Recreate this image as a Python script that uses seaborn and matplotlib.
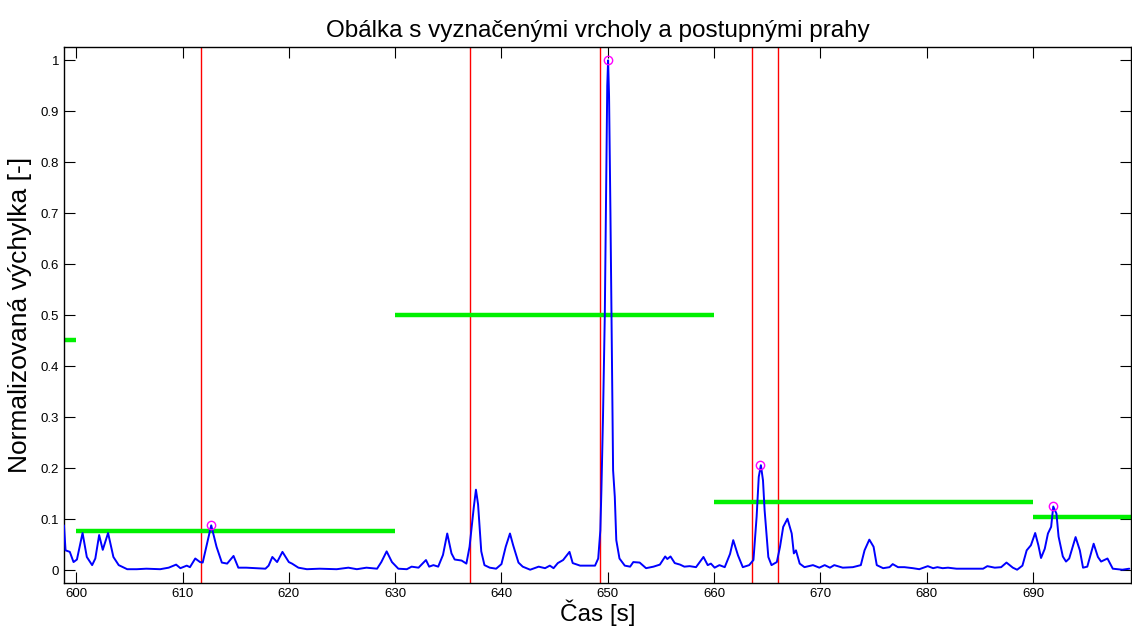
import numpy as np
import pandas as pd
import matplotlib
matplotlib.use("Agg")
import matplotlib.pyplot as plt
import seaborn as sns

# Envelope (time in s, normalized amplitude)
cas = [598.85, 599.0, 599.4, 599.75, 600.07, 600.6, 601.0, 601.5, 601.8, 602.16,
       602.5, 603.0, 603.5, 604.0, 604.8, 605.7, 606.6, 607.9, 608.7, 609.4,
       609.8, 610.4, 610.7, 611.2, 611.65, 611.9, 612.7, 613.2, 613.7, 614.2,
       614.8, 615.25, 616.0, 617.0, 617.8, 618.1, 618.45, 618.9, 619.4, 620.0,
       620.3, 620.9, 621.7, 622.9, 624.5, 625.6, 626.4, 627.3, 628.3, 628.7,
       629.2, 629.7, 630.3, 631.1, 631.55, 632.2, 632.9, 633.2, 633.6, 634.05,
       634.5, 634.9, 635.3, 635.6, 636.25, 636.7, 637.0, 637.4, 637.6, 637.8,
       638.1, 638.4, 638.9, 639.5, 640.0, 640.4, 640.8, 641.1, 641.6, 642.0,
       642.7, 643.5, 644.1, 644.55, 644.9, 645.3, 645.8, 646.4, 646.7, 647.4,
       648.0, 648.8, 649.1, 649.3, 649.4, 649.55, 649.72, 649.85, 649.95, 650.03,
       650.12, 650.25, 650.35, 650.45, 650.5, 650.66, 650.8, 651.1, 651.6, 652.1,
       652.4, 653.0, 653.6, 654.3, 654.9, 655.4, 655.6, 655.9, 656.3, 656.8,
       657.2, 657.7, 658.3, 659.0, 659.4, 659.7, 660.05, 660.5, 661.0, 661.5,
       661.8, 662.25, 662.7, 663.3, 663.7, 664.0, 664.2, 664.4, 664.6, 664.75,
       665.1, 665.4, 665.9, 666.2, 666.5, 666.9, 667.3, 667.5, 667.7, 668.05,
       668.5, 669.3, 669.9, 670.4, 670.9, 671.3, 672.1, 673.05, 673.8, 674.15,
       674.6, 675.0, 675.3, 675.9, 676.5, 676.8, 677.3, 677.9, 678.7, 679.3,
       680.1, 680.6, 681.0, 681.5, 682.0, 682.8, 684.0, 685.3, 685.7, 686.4,
       687.0, 687.5, 688.1, 688.5, 689.0, 689.4, 689.8, 690.2, 690.5, 690.75,
       691.1, 691.4, 691.7, 691.9, 692.2, 692.4, 692.8, 693.1, 693.4, 694.0,
       694.4, 694.7, 695.1, 695.7, 696.1, 696.4, 697.0, 697.5, 698.4, 699.05]
obalka = [0.088, 0.039, 0.036, 0.016, 0.021, 0.073, 0.026, 0.010, 0.023, 0.069,
          0.040, 0.073, 0.026, 0.010, 0.002, 0.002, 0.003, 0.002, 0.005, 0.011,
          0.004, 0.009, 0.006, 0.023, 0.016, 0.015, 0.088, 0.046, 0.015, 0.013,
          0.028, 0.005, 0.005, 0.004, 0.003, 0.009, 0.026, 0.016, 0.036, 0.016,
          0.013, 0.005, 0.002, 0.003, 0.002, 0.005, 0.002, 0.005, 0.003, 0.016,
          0.037, 0.016, 0.003, 0.002, 0.007, 0.005, 0.020, 0.007, 0.010, 0.007,
          0.030, 0.072, 0.033, 0.021, 0.019, 0.013, 0.046, 0.124, 0.158, 0.129,
          0.037, 0.010, 0.005, 0.003, 0.012, 0.046, 0.072, 0.049, 0.015, 0.007,
          0.001, 0.007, 0.004, 0.009, 0.004, 0.014, 0.020, 0.036, 0.014, 0.009,
          0.009, 0.009, 0.023, 0.078, 0.157, 0.30, 0.50, 0.75, 0.95, 1.0,
          0.93, 0.70, 0.50, 0.28, 0.196, 0.144, 0.059, 0.023, 0.009, 0.007,
          0.016, 0.015, 0.004, 0.007, 0.011, 0.027, 0.022, 0.027, 0.014, 0.011,
          0.007, 0.008, 0.006, 0.026, 0.010, 0.013, 0.005, 0.010, 0.006, 0.032,
          0.059, 0.029, 0.006, 0.010, 0.020, 0.105, 0.183, 0.206, 0.176, 0.118,
          0.026, 0.010, 0.016, 0.046, 0.085, 0.101, 0.072, 0.033, 0.039, 0.013,
          0.006, 0.010, 0.005, 0.010, 0.005, 0.010, 0.005, 0.006, 0.010, 0.039,
          0.060, 0.046, 0.010, 0.004, 0.006, 0.012, 0.006, 0.006, 0.004, 0.002,
          0.008, 0.004, 0.006, 0.004, 0.005, 0.003, 0.003, 0.003, 0.008, 0.005,
          0.006, 0.015, 0.005, 0.001, 0.009, 0.039, 0.049, 0.073, 0.049, 0.024,
          0.042, 0.072, 0.085, 0.125, 0.111, 0.066, 0.027, 0.017, 0.023, 0.065,
          0.039, 0.005, 0.007, 0.052, 0.026, 0.017, 0.023, 0.003, 0.001, 0.003]

# Detected peaks
vrchol_cas = [612.7, 650.03, 664.35, 691.9]
vrchol_hodnota = [0.088, 1.0, 0.207, 0.125]

# Boundaries (red lines)
hranice = [611.75, 637.0, 649.3, 663.6, 666.0]

# Step thresholds per window
prah_od = [590, 600, 630, 660, 690]
prah_do = [600, 630, 660, 690, 700]
prah = [0.451, 0.077, 0.5, 0.133, 0.104]

df = pd.DataFrame({"cas": cas, "obalka": obalka})
df_vrchol = pd.DataFrame({"cas": vrchol_cas, "hodnota": vrchol_hodnota})

sns.set_style("ticks")
plt.rcParams["font.family"] = ["Liberation Sans", "DejaVu Sans"]
plt.rcParams["text.color"] = "black"
plt.rcParams["axes.labelcolor"] = "black"

fig = plt.figure(figsize=(11.32, 6.28), dpi=100)
ax = fig.add_axes([0.0565, 0.0717, 0.9425, 0.8533])

for h in hranice:
    ax.axvline(h, color="red", lw=1, zorder=1)

ax.hlines(prah, prah_od, prah_do, colors="#00f000", lw=3.2, zorder=2)

sns.lineplot(data=df, x="cas", y="obalka", color="blue", lw=1.4, ax=ax, zorder=3)

ax.plot(df_vrchol["cas"], df_vrchol["hodnota"], ls="none", marker="o", ms=6,
        mfc="none", mec="magenta", mew=1, zorder=4)

ax.set_xlim(598.85, 699.2)
ax.set_ylim(-0.025, 1.026)
ax.set_xticks(np.arange(600, 700, 10))
ax.set_yticks(np.arange(0, 1.01, 0.1))
ax.set_yticklabels(["0"] + ["%.1f" % v for v in np.arange(0.1, 0.95, 0.1)] + ["1"])
ax.tick_params(direction="in", length=8, width=0.8, top=True, right=True,
               labelsize=9.5, colors="black")
for s in ax.spines.values():
    s.set_visible(True)
    s.set_color("black")
    s.set_linewidth(1)

ax.set_title("Obálka s vyznačenými vrcholy a postupnými prahy", fontsize=17.5, pad=7,
             color="black")
ax.set_xlabel("Čas [s]", fontsize=17.5, labelpad=0, color="black")
ax.set_ylabel("Normalizovaná výchylka [-]", fontsize=19, labelpad=6, color="black")

fig.savefig("out.png", dpi=100)
